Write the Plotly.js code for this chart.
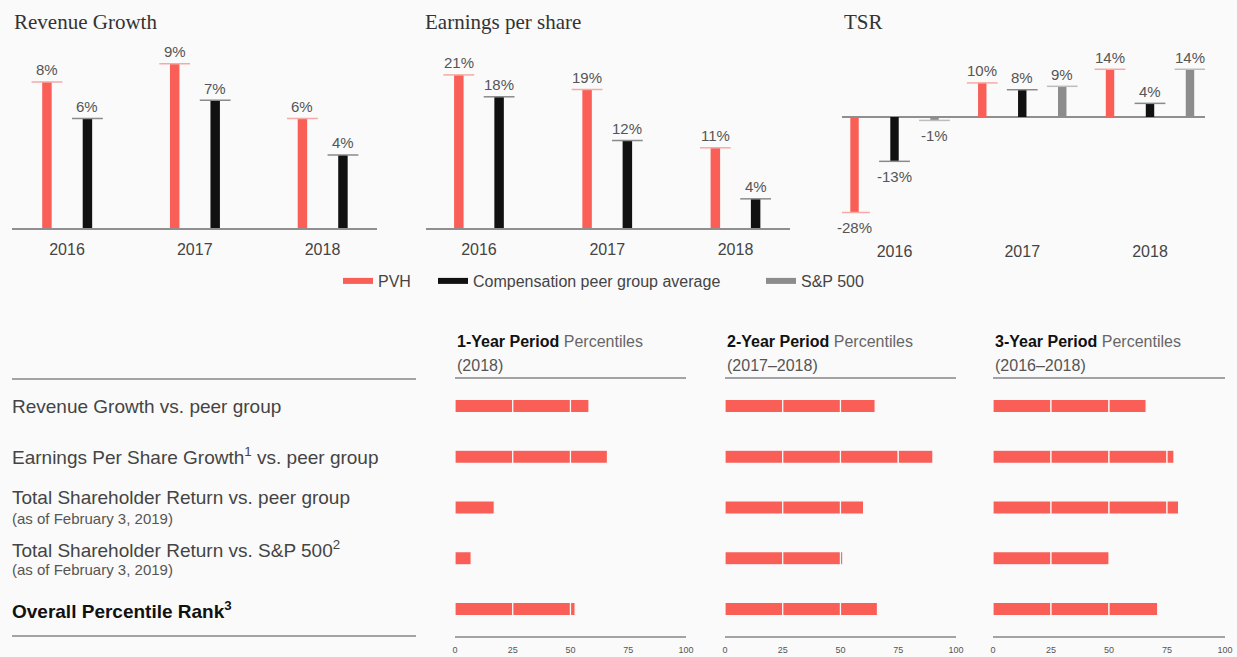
<!DOCTYPE html>
<html><head><meta charset="utf-8">
<script src="https://cdn.plot.ly/plotly-3.0.1.min.js"></script>
<style>html,body{margin:0;padding:0;background:#fafafa;} #chart{width:1237px;height:657px;}</style>
</head><body><div id="chart"></div>
<script>
// ---- data ----
const years = ['2016', '2017', '2018'];
const revPVH = [8, 9, 6];
const revPeer = [6, 7, 4];
const epsPVH = [21, 19, 11];
const epsPeer = [18, 12, 4];
const tsrPVH = [-28, 10, 14];
const tsrPeer = [-13, 8, 4];
const tsrSP = [-1, 9, 14];
const seriesNames = ['PVH', 'Compensation peer group average', 'S&P 500'];
const panelTitles = ['Revenue Growth', 'Earnings per share', 'TSR'];

const rowLabels = ['Revenue Growth vs. peer group',
  'Earnings Per Share Growth<sup>1</sup> vs. peer group',
  'Total Shareholder Return vs. peer group',
  'Total Shareholder Return vs. S&P 500<sup>2</sup>',
  '<b>Overall Percentile Rank<sup>3</sup></b>'];
const rowNotes = ['', '', '(as of February 3, 2019)', '(as of February 3, 2019)', ''];
const periodNames = ['1-Year Period', '2-Year Period', '3-Year Period'];
const periodSpans = ['(2018)', '(2017–2018)', '(2016–2018)'];
const pct1Year = [58, 66, 17, 7, 52];
const pct2Year = [65, 90, 60, 51, 66];
const pct3Year = [66, 78, 80, 50, 71];
const pctTicks = [0, 25, 50, 75, 100];
const pctStep = 25;

// ---- styling / layout helpers ----
const W = 1237, H = 657;
const fx = p => p / W, fy = p => 1 - p / H;
const RED = '#f95e57', BLACK = '#111111', GRAY = '#8c8c8c';
const REDCAP = '#f6aaa5', BLACKCAP = '#8a8a8a', GRAYCAP = '#bdbdbd';
const SANS = 'Liberation Sans, Arial, sans-serif';
const SERIF = 'Liberation Serif, Times New Roman, serif';
const LINE = '#a3a3a3';

const traces = [];
const layout = {
  width: W, height: H, margin: {l: 0, r: 0, t: 0, b: 0},
  paper_bgcolor: '#fafafa', plot_bgcolor: 'rgba(0,0,0,0)',
  barmode: 'overlay', showlegend: true, hovermode: false,
  font: {family: SANS, color: '#444'},
  annotations: [], shapes: []
};

const idx = years.map((_, i) => i);
const topPanels = [
  {n: '', px: [12, 377], xr: [-0.4305, 2.4266], yr: [0, 10.30], line: true, so: 6,
   series: [{v: revPVH, c: RED, cap: REDCAP, off: -0.157}, {v: revPeer, c: BLACK, cap: BLACKCAP, off: 0.16}], w: 0.074},
  {n: '2', px: [426, 790], xr: [-0.413, 2.425], yr: [0, 25.79], line: true, so: 6,
   series: [{v: epsPVH, c: RED, cap: REDCAP, off: -0.157}, {v: epsPeer, c: BLACK, cap: BLACKCAP, off: 0.157}], w: 0.074},
  {n: '3', px: [842, 1205], xr: [-0.411, 2.4305], yr: [-32.55, 22.58], line: false, so: 12,
   series: [{v: tsrPVH, c: RED, cap: REDCAP, off: -0.313}, {v: tsrPeer, c: BLACK, cap: BLACKCAP, off: 0}, {v: tsrSP, c: GRAY, cap: GRAYCAP, off: 0.313}], w: 0.066}
];

topPanels.forEach((p, pi) => {
  const xa = 'x' + p.n, ya = 'y' + p.n;
  layout['xaxis' + p.n] = {
    domain: [fx(p.px[0]), fx(p.px[1])], range: p.xr, anchor: ya,
    tickvals: idx, ticktext: years, ticks: '', showgrid: false, zeroline: false,
    showline: p.line, linecolor: '#8f8f8f', linewidth: 2, ticklabelstandoff: p.so,
    tickfont: {size: 16, color: '#444', family: SANS}, fixedrange: true
  };
  layout['yaxis' + p.n] = {
    domain: [fy(228), fy(40)], range: p.yr, anchor: xa, visible: !p.line,
    showticklabels: false, ticks: '', showgrid: false, showline: false,
    zeroline: !p.line, zerolinecolor: '#8f8f8f', zerolinewidth: 2, fixedrange: true
  };
  p.series.forEach(s => {
    const xs = idx.map(i => i + s.off);
    traces.push({type: 'bar', x: xs, y: s.v, width: p.w, xaxis: xa, yaxis: ya,
      marker: {color: s.c, line: {width: 0}}, showlegend: false, hoverinfo: 'skip'});
    traces.push({type: 'scatter', mode: 'markers', x: xs, y: s.v, xaxis: xa, yaxis: ya,
      marker: {symbol: 'line-ew', size: 22, line: {width: 1.5, color: s.cap}}, showlegend: false, hoverinfo: 'skip'});
    s.v.forEach((d, i) => layout.annotations.push({
      xref: xa, yref: ya, x: xs[i], y: d, text: d + '%', showarrow: false,
      xanchor: 'center', yanchor: 'middle', yshift: d < 0 ? -15 : 12,
      font: {size: 15, color: '#555', family: SANS}}));
  });
  layout.annotations.push({xref: 'paper', yref: 'paper', x: fx(p.px[0] + (pi === 1 ? -3 : 0)), y: fy(22),
    xanchor: 'left', yanchor: 'middle', showarrow: false, text: panelTitles[pi],
    font: {family: SERIF, size: 21, color: '#333'}});
});

// legends (three independent legends)
const legColors = [RED, BLACK, GRAY];
const legX = [338, 433, 761];
seriesNames.forEach((nm, i) => {
  const lg = i === 0 ? 'legend' : 'legend' + (i + 1);
  traces.push({type: 'scatter', mode: 'lines', x: [null], y: [null], name: nm, legend: lg,
    line: {color: legColors[i], width: 6}, hoverinfo: 'skip'});
  layout[lg] = {x: fx(legX[i]), y: fy(281), xanchor: 'left', yanchor: 'middle', orientation: 'h',
    bgcolor: 'rgba(0,0,0,0)', borderwidth: 0, font: {size: 16, color: '#444', family: SANS}};
});

// bottom percentile panels
const pctData = [pct1Year, pct2Year, pct3Year];
const botPx = [[455, 686], [725, 956], [993, 1225]];
const rowIdx = rowLabels.map((_, i) => i);
pctData.forEach((vals, pi) => {
  const n = String(pi + 4);
  layout['xaxis' + n] = {
    domain: [fx(botPx[pi][0]), fx(botPx[pi][1])], range: [0, 100], anchor: 'y' + n,
    tickvals: pctTicks, ticks: '', showgrid: false, zeroline: false,
    showline: true, mirror: true, linecolor: LINE, linewidth: 2, ticklabelstandoff: 4,
    tickfont: {size: 9, color: '#555', family: SANS}, fixedrange: true
  };
  layout['yaxis' + n] = {domain: [fy(636), fy(379)], range: [4.532, -0.532], anchor: 'x' + n,
    visible: false, fixedrange: true};
  for (let k = 0; k < pctTicks.length - 1; k++) {
    const lo = pctTicks[k];
    traces.push({type: 'bar', orientation: 'h', y: rowIdx,
      base: vals.map(() => lo),
      x: vals.map(v => v > lo ? Math.min(v - lo, pctStep) : null),
      width: 0.26, xaxis: 'x' + n, yaxis: 'y' + n,
      marker: {color: RED, line: {color: '#fafafa', width: 1.2}},
      showlegend: false, hoverinfo: 'skip'});
  }
  layout.annotations.push({xref: 'paper', yref: 'paper', x: fx(botPx[pi][0]), y: fy(341),
    xanchor: 'left', yanchor: 'middle', showarrow: false,
    text: '<b>' + periodNames[pi] + '</b> <span style="color:#666">Percentiles</span>',
    font: {size: 16, color: '#111', family: SANS}});
  layout.annotations.push({xref: 'paper', yref: 'paper', x: fx(botPx[pi][0]), y: fy(365),
    xanchor: 'left', yanchor: 'middle', showarrow: false, text: periodSpans[pi],
    font: {size: 16, color: '#555', family: SANS}});
});

// row labels
const mainY = [406, 456, 497, 549, 610];
const noteY = [0, 0, 518, 569, 0];
rowLabels.forEach((t, i) => {
  layout.annotations.push({xref: 'paper', yref: 'paper', x: fx(10), y: fy(mainY[i]),
    xanchor: 'left', yanchor: 'middle', showarrow: false, text: t,
    font: {size: 19, color: i === 4 ? '#111' : '#444', family: SANS}});
  if (rowNotes[i]) layout.annotations.push({xref: 'paper', yref: 'paper', x: fx(10), y: fy(noteY[i]),
    xanchor: 'left', yanchor: 'middle', showarrow: false, text: rowNotes[i],
    font: {size: 15, color: '#555', family: SANS}});
});
[379, 636].forEach(py => layout.shapes.push({type: 'line', xref: 'paper', yref: 'paper',
  x0: fx(12), x1: fx(416), y0: fy(py), y1: fy(py), line: {color: LINE, width: 2}}));

Plotly.newPlot('chart', traces, layout, {displayModeBar: false, staticPlot: true});
</script></body></html>
